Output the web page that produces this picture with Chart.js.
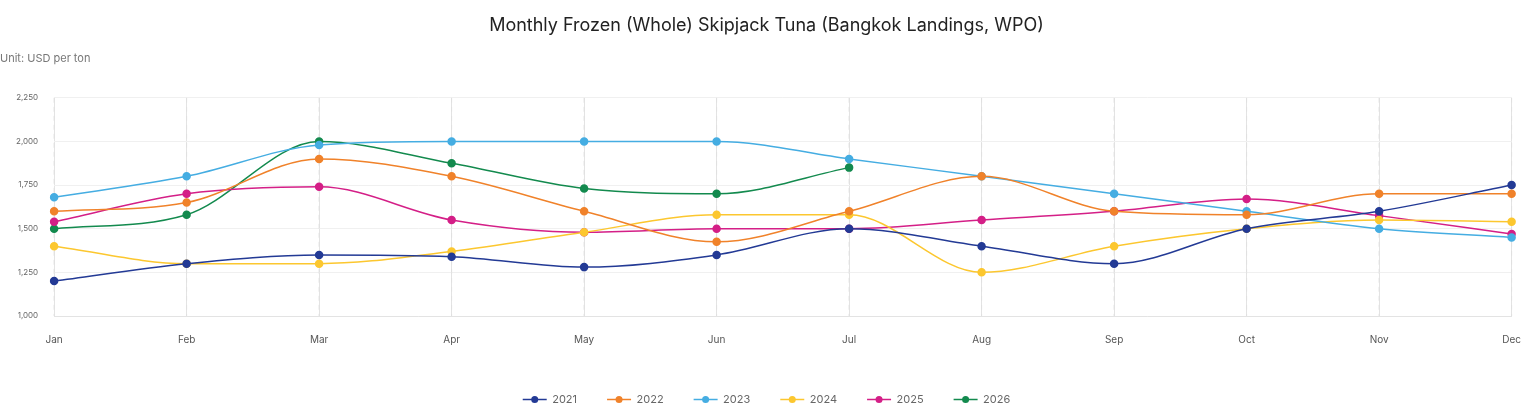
<!DOCTYPE html>
<html>
<head>
<meta charset="utf-8">
<script src="https://cdn.jsdelivr.net/npm/chart.js@4.4.1/dist/chart.umd.min.js"></script>
<style>
  html, body { margin: 0; padding: 0; background: #fff; }
  #wrap { width: 1539px; height: 417px; position: relative; }
</style>
</head>
<body>
<div id="wrap"><canvas id="chart" width="1539" height="417"></canvas></div>
<script>
// data
const months = ['Jan', 'Feb', 'Mar', 'Apr', 'May', 'Jun', 'Jul', 'Aug', 'Sep', 'Oct', 'Nov', 'Dec'];
const y2021 = [1200, 1300, 1350, 1340, 1280, 1350, 1500, 1400, 1300, 1500, 1600, 1750];
const y2022 = [1600, 1650, 1900, 1800, 1600, 1425, 1600, 1800, 1600, 1580, 1700, 1700];
const y2023 = [1680, 1800, 1980, 2000, 2000, 2000, 1900, 1800, 1700, 1600, 1500, 1450];
const y2024 = [1400, 1300, 1300, 1370, 1480, 1580, 1580, 1250, 1400, 1500, 1550, 1540];
const y2025 = [1540, 1700, 1740, 1550, 1480, 1500, 1500, 1550, 1600, 1670, 1575, 1470];
const y2026 = [1500, 1580, 2000, 1875, 1730, 1700, 1850];

const seriesNames = ['2021', '2022', '2023', '2024', '2025', '2026'];
const seriesData = [y2021, y2022, y2023, y2024, y2025, y2026];
const colors = ['#233a95', '#f0822a', '#45ade2', '#fcc72f', '#d41f87', '#138a4e'];

const datasets = seriesNames.map((name, i) => ({
    label: name,
    data: seriesData[i],
    borderColor: colors[i],
    backgroundColor: colors[i],
    borderWidth: 1.5,
    pointRadius: 3.5,
    pointHoverRadius: 5,
    cubicInterpolationMode: 'monotone',
    fill: false
}));

new Chart(document.getElementById('chart').getContext('2d'), {
    type: 'line',
    data: { labels: months, datasets: datasets },
    options: {
        responsive: false,
        animation: false,
        layout: { padding: { left: 0, right: 6, top: 15, bottom: 2 } },
        plugins: {
            title: {
                display: true,
                text: 'Monthly Frozen (Whole) Skipjack Tuna (Bangkok Landings, WPO)',
                color: '#222',
                font: { family: 'Inter', size: 18, weight: 'normal' },
                padding: { top: 0, bottom: 15 }
            },
            subtitle: {
                display: true,
                text: 'Unit: USD per ton',
                align: 'start',
                color: '#777',
                font: { family: 'Inter', size: 11 },
                padding: { bottom: 33 }
            },
            legend: {
                position: 'bottom',
                labels: {
                    usePointStyle: true,
                    pointStyle: 'line',
                    pointStyleWidth: 24,
                    boxWidth: 24,
                    padding: 30,
                    color: '#666',
                    font: { family: 'Inter', size: 11 },
                    generateLabels: function(chart) {
                        return chart.data.datasets.map((ds, i) => ({
                            text: ds.label,
                            strokeStyle: ds.borderColor,
                            fillStyle: ds.borderColor,
                            fontColor: '#666',
                            lineWidth: 1.5,
                            pointStyle: 'line',
                            datasetIndex: i,
                            hidden: !chart.isDatasetVisible(i)
                        }));
                    }
                }
            }
        },
        scales: {
            x: {
                offset: false,
                grid: { color: '#e3e3e3', drawTicks: false },
                border: { display: true, color: '#e3e3e3' },
                ticks: { color: '#555', padding: 18, font: { family: 'Inter', size: 10 } }
            },
            y: {
                min: 1000,
                max: 2250,
                grid: { color: '#f0f0f0', drawTicks: false },
                border: { display: false },
                ticks: {
                    stepSize: 250,
                    color: '#666',
                    padding: 16,
                    font: { family: 'Inter', size: 8 },
                    callback: v => v.toLocaleString('en-US')
                }
            }
        }
    },
    plugins: [{
        // dashed vertical grid lines + legend point dots
        id: 'extras',
        beforeDatasetsDraw(chart) {
            const { ctx, chartArea, scales } = chart;
            ctx.save();
            ctx.strokeStyle = '#e0e0e0';
            ctx.lineWidth = 1;
            ctx.setLineDash([5, 4]);
            months.forEach((m, i) => {
                const x = scales.x.getPixelForValue(i);
                ctx.beginPath();
                ctx.moveTo(x, chartArea.top);
                ctx.lineTo(x, chartArea.bottom);
                ctx.stroke();
            });
            ctx.restore();
        },
        afterDraw(chart) {
            const { ctx } = chart;
            ctx.save();
            chart.legend.legendHitBoxes.forEach((box, i) => {
                ctx.fillStyle = colors[i];
                ctx.beginPath();
                ctx.arc(box.left + 12, box.top + box.height / 2, 3.5, 0, Math.PI * 2);
                ctx.fill();
            });
            ctx.restore();
        }
    }]
});
</script>
</body>
</html>
